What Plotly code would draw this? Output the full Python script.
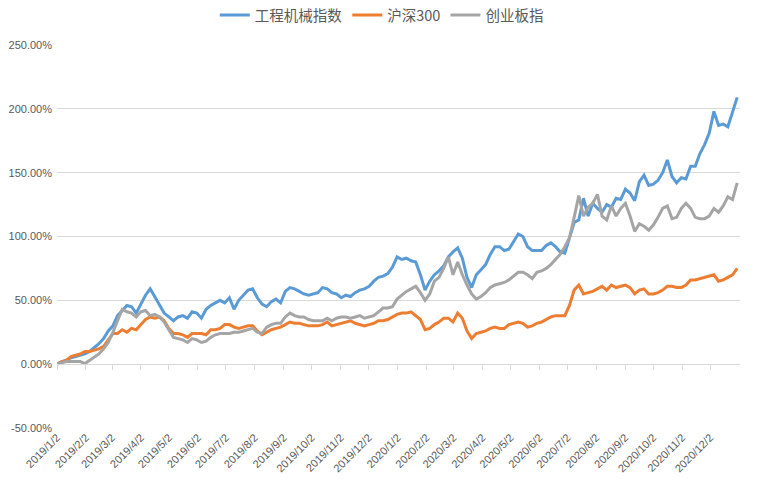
import pandas as pd
import plotly.graph_objects as go

# ---- data ----
dates = pd.date_range("2019-01-02", "2020-12-31", periods=147)

tick_dates = ["2019-01-02", "2019-02-02", "2019-03-02", "2019-04-02", "2019-05-02", "2019-06-02",
              "2019-07-02", "2019-08-02", "2019-09-02", "2019-10-02", "2019-11-02", "2019-12-02",
              "2020-01-02", "2020-02-02", "2020-03-02", "2020-04-02", "2020-05-02", "2020-06-02",
              "2020-07-02", "2020-08-02", "2020-09-02", "2020-10-02", "2020-11-02", "2020-12-02"]
tick_labels = ["2019/1/2", "2019/2/2", "2019/3/2", "2019/4/2", "2019/5/2", "2019/6/2",
               "2019/7/2", "2019/8/2", "2019/9/2", "2019/10/2", "2019/11/2", "2019/12/2",
               "2020/1/2", "2020/2/2", "2020/3/2", "2020/4/2", "2020/5/2", "2020/6/2",
               "2020/7/2", "2020/8/2", "2020/9/2", "2020/10/2", "2020/11/2", "2020/12/2"]

y_ticks = [-50, 0, 50, 100, 150, 200, 250]
y_labels = ["-50.00%", "0.00%", "50.00%", "100.00%", "150.00%", "200.00%", "250.00%"]

machinery = [0, 2, 3, 5, 6, 7, 8, 10, 13, 16,
             20, 26, 30, 38, 42, 46, 45, 40, 47, 54,
             59, 53, 47, 40, 37, 34, 37, 38, 36, 41,
             40, 36, 43, 46, 48, 50, 48, 52, 43, 50,
             54, 58, 59, 52, 47, 45, 49, 51, 48, 57,
             60, 59, 57, 55, 54, 55, 56, 60, 59, 56,
             55, 52, 54, 53, 56, 58, 59, 61, 65, 68,
             69, 71, 76, 84, 82, 83, 81, 80, 70, 58,
             65, 70, 73, 77, 84, 88, 91, 83, 68, 60,
             70, 74, 78, 86, 92, 92, 89, 90, 96, 102,
             100, 92, 89, 89, 89, 93, 95, 92, 88, 87,
             99, 111, 113, 130, 116, 126, 122, 119, 125, 123,
             130, 129, 137, 134, 128, 143, 148, 140, 141, 144,
             150, 160, 147, 142, 146, 145, 155, 155, 165, 172,
             181, 198, 187, 188, 186, 198, 209]

hs300 = [0, 2, 3, 6, 7, 8, 10, 10, 11, 12,
         14, 19, 24, 24, 27, 25, 28, 27, 31, 35,
         37, 36, 37, 34, 28, 24, 24, 23, 21, 24,
         24, 24, 23, 27, 27, 28, 31, 31, 29, 28,
         29, 30, 30, 26, 23, 25, 27, 28, 29, 31,
         33, 32, 32, 31, 30, 30, 30, 31, 33, 30,
         31, 32, 33, 34, 32, 31, 30, 31, 32, 34,
         34, 35, 37, 39, 40, 40, 41, 38, 35, 27,
         28, 31, 33, 36, 36, 33, 40, 36, 26, 20,
         24, 25, 26, 28, 29, 28, 28, 31, 32, 33,
         32, 29, 30, 32, 33, 35, 37, 38, 38, 38,
         46, 58, 62, 55, 56, 57, 59, 61, 58, 62,
         60, 61, 62, 60, 55, 58, 59, 55, 55, 56,
         58, 61, 61, 60, 60, 62, 66, 66, 67, 68,
         69, 70, 65, 66, 68, 70, 75]

chinext = [0, 1, 2, 2, 2, 2, 0.5, 3, 5, 8,
           12, 17, 25, 34, 43, 41, 40, 37, 41, 42,
           38, 39, 37, 33, 27, 21, 20, 19, 17, 20,
           19, 17, 18, 21, 23, 24, 24, 24, 25, 25,
           26, 27, 28, 25, 24, 29, 31, 32, 32, 37,
           40, 38, 37, 37, 35, 34, 34, 34, 36, 34,
           36, 37, 37, 36, 37, 38, 36, 37, 38, 41,
           44, 44, 45, 51, 54, 57, 59, 61, 56, 50,
           55, 65, 68, 75, 84, 70, 80, 70, 62, 55,
           51, 53, 56, 60, 62, 63, 64, 66, 69, 72,
           72, 70, 67, 72, 73, 75, 78, 82, 86, 92,
           99, 115, 132, 116, 123, 126, 133, 116, 113, 124,
           116, 122, 126, 116, 104, 110, 108, 105, 109, 115,
           122, 124, 114, 115, 122, 126, 122, 115, 114, 114,
           116, 122, 119, 124, 131, 129, 142]

series = [("工程机械指数", machinery, "#5B9BD5"),
          ("沪深300", hs300, "#ED7D31"),
          ("创业板指", chinext, "#A5A5A5")]

# ---- figure ----
fig = go.Figure()
for name, vals, color in series:
    fig.add_trace(go.Scatter(x=dates, y=vals, name=name, mode="lines",
                             line=dict(color=color, width=3)))

# helper trace so the axis line at 0% (with its tick marks) is drawn
fig.add_trace(go.Scatter(x=[dates[0]], y=[0], xaxis="x2", mode="lines",
                         showlegend=False, hoverinfo="skip",
                         line=dict(width=0, color="rgba(0,0,0,0)")))

grid = "#D9D9D9"
txt = "#595959"
xr = ["2019-01-02", "2021-01-03"]

fig.update_layout(
    width=759, height=488,
    margin=dict(l=57, r=19, t=45, b=60, autoexpand=False),
    paper_bgcolor="white", plot_bgcolor="white",
    font=dict(family="Liberation Sans, Noto Sans CJK SC", color=txt, size=11),
    showlegend=True,
    legend=dict(orientation="h", xref="container", yref="container",
                x=0.503, xanchor="center", y=0.969, yanchor="middle",
                font=dict(family="Noto Sans CJK SC", size=14.5, color=txt),
                itemwidth=30, bgcolor="rgba(0,0,0,0)"),
    xaxis=dict(type="date", range=xr, tickvals=tick_dates, ticktext=tick_labels,
               tickangle=-45, showgrid=False, showline=False, zeroline=False,
               ticks="", automargin=False, tickfont=dict(size=11, color=txt)),
    xaxis2=dict(type="date", range=xr, overlaying="x", anchor="free",
                position=1/6, tickvals=tick_dates, showticklabels=False,
                ticks="outside", ticklen=5, tickcolor=grid, tickwidth=1,
                showline=True, linecolor=grid, linewidth=1, showgrid=False,
                zeroline=False, automargin=False),
    yaxis=dict(range=[-50, 250], tickvals=y_ticks, ticktext=y_labels,
               showgrid=True, gridcolor=grid, gridwidth=1, zeroline=False,
               showline=False, ticks="", automargin=False, ticklabelstandoff=4,
               tickfont=dict(size=11, color=txt)),
)

fig.write_html("out.html", config={"displayModeBar": False},
               post_script="document.body.style.margin='0px';")
